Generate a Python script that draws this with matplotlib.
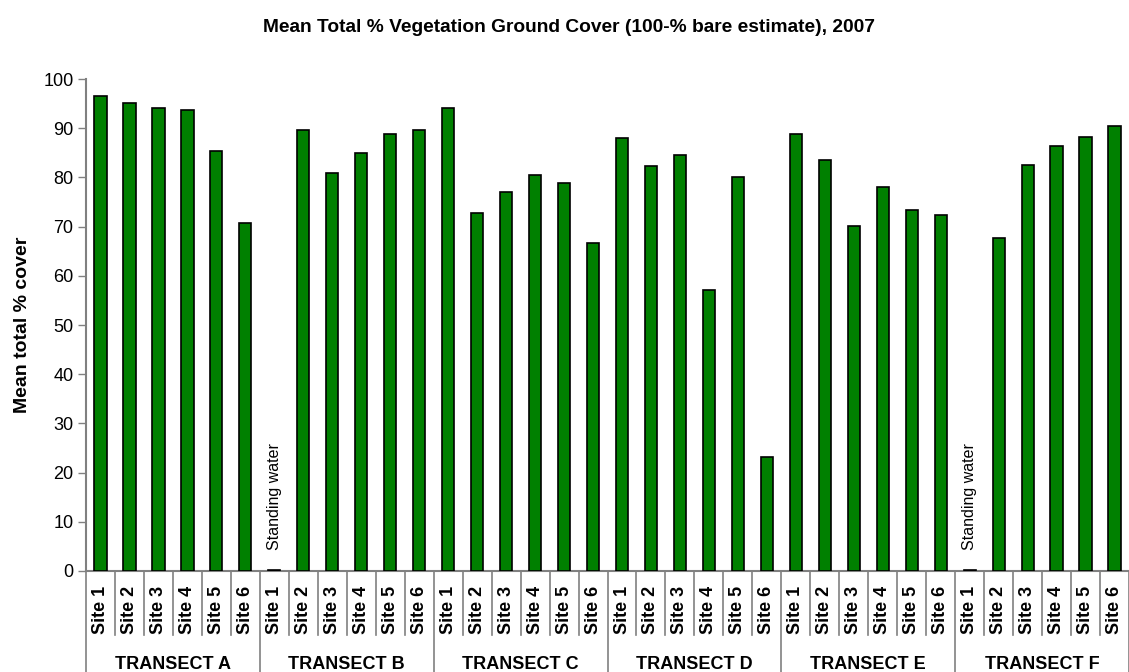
import matplotlib
matplotlib.use("Agg")
from matplotlib import pyplot as plt
import numpy as np

plt.rcParams['font.family'] = ['Liberation Sans', 'DejaVu Sans']

transects = ["TRANSECT A", "TRANSECT B", "TRANSECT C", "TRANSECT D", "TRANSECT E", "TRANSECT F"]
sites = ["Site 1", "Site 2", "Site 3", "Site 4", "Site 5", "Site 6"]

# mean total % cover per site, one list per transect
cover_a = [96.6, 95.1, 94.1, 93.8, 85.3, 70.7]
cover_b = [0.3, 89.6, 81.0, 85.0, 88.9, 89.6]
cover_c = [94.1, 72.8, 77.0, 80.4, 78.9, 66.7]
cover_d = [88.1, 82.4, 84.5, 57.1, 80.1, 23.2]
cover_e = [88.9, 83.5, 70.1, 78.0, 73.3, 72.3]
cover_f = [0.3, 67.7, 82.5, 86.3, 88.2, 90.5]

# sites that had standing water (transect index, site index)
standing_water = [(1, 0), (5, 0)]

values = cover_a + cover_b + cover_c + cover_d + cover_e + cover_f
labels = sites * len(transects)
x = np.arange(len(values))

fig = plt.figure(figsize=(11.29, 6.72), dpi=100)
ax = fig.add_axes([0.0762, 0.1503, 0.9238, 0.7321])

ax.bar(x, values, width=0.42, color="#008000", edgecolor="black", linewidth=1.2, zorder=3)

ax.set_xlim(-0.5, len(values) - 0.5)
ax.set_ylim(0, 100)
ax.set_yticks(np.arange(0, 101, 10))
ax.tick_params(axis="y", labelsize=13, length=6, width=1, color="#808080", direction="out", pad=3)

ax.set_xticks(x)
ax.set_xticklabels(labels, rotation=90, fontsize=13, fontweight="bold", va="top")
ax.tick_params(axis="x", length=0, pad=11)

for side in ["top", "right"]:
    ax.spines[side].set_visible(False)
for side in ["left", "bottom"]:
    ax.spines[side].set_color("#808080")
    ax.spines[side].set_linewidth(1.5)

# separators between sites (short) and between transects (long)
trans = ax.get_xaxis_transform()
n = len(sites)
for k in range(len(values) + 1):
    if k % n == 0:
        ax.plot([k - 0.5, k - 0.5], [0, -0.3], color="#808080", lw=1.2,
                transform=trans, clip_on=False)
    else:
        ax.plot([k - 0.5, k - 0.5], [0, -0.13], color="#808080", lw=1.2,
                transform=trans, clip_on=False)

for t, name in enumerate(transects):
    ax.text(t * n + (n - 1) / 2, -0.19, name, transform=trans, ha="center", va="center",
            fontsize=13, fontweight="bold")

for t, s in standing_water:
    ax.text(t * n + s, 4.3, "Standing water", rotation=90, ha="center", va="bottom",
            fontsize=11.5)

ax.set_ylabel("Mean total % cover", fontsize=14, fontweight="bold", labelpad=9)

fig.suptitle("Mean Total % Vegetation Ground Cover (100-% bare estimate), 2007",
             x=0.504, y=0.972, fontsize=13.8, fontweight="bold")

fig.savefig("out.png", dpi=100)
